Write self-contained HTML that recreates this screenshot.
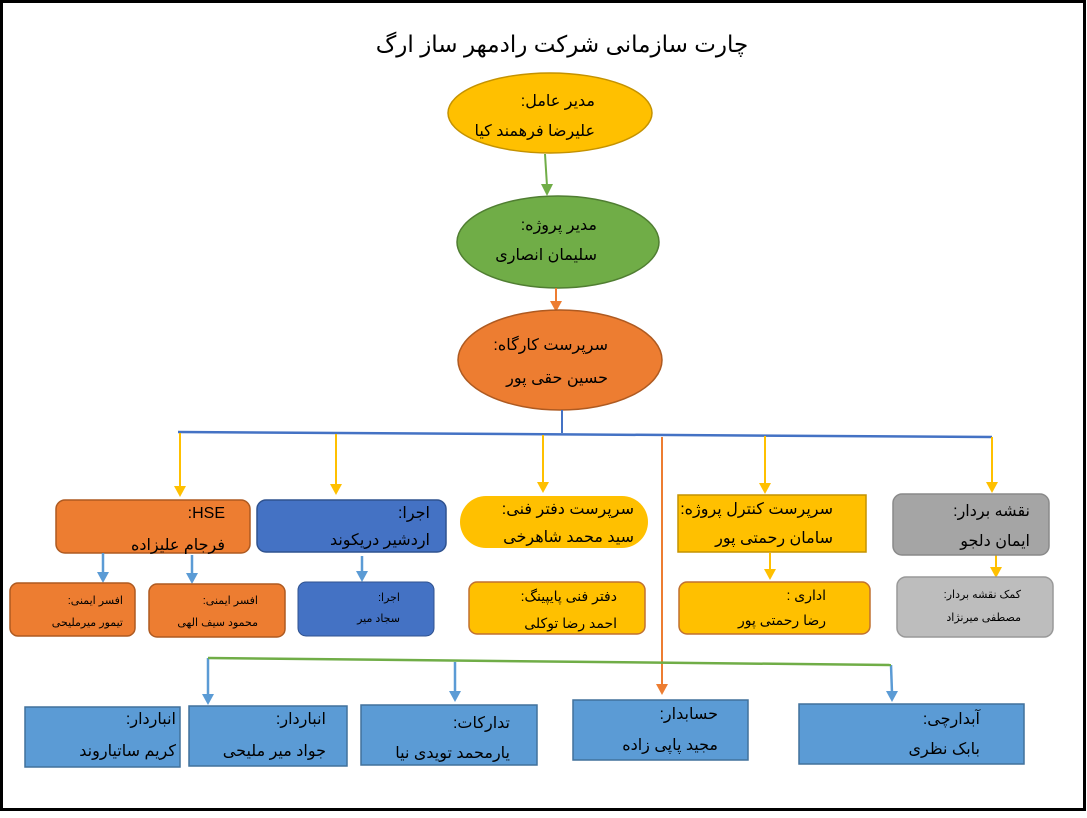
<!DOCTYPE html>
<html><head><meta charset="utf-8"><style>
body{margin:0;background:#fff}
svg text{font-family:"Liberation Sans","DejaVu Sans",sans-serif;direction:rtl}
</style></head><body>
<svg width="1087" height="813" viewBox="0 0 1087 813" xmlns="http://www.w3.org/2000/svg">
<rect x="1.5" y="1.5" width="1083" height="808" fill="#fff" stroke="#000" stroke-width="3"/>
<text x="562" y="52" font-size="23" text-anchor="middle">چارت سازمانی شرکت رادمهر ساز ارگ</text>

<ellipse cx="550" cy="113" rx="102" ry="40" fill="#FFC000" stroke="#c49200" stroke-width="1.5"/>
<text x="595" y="106" font-size="16" text-anchor="start">مدیر عامل:</text>
<text x="595" y="136" font-size="16" text-anchor="start">علیرضا فرهمند کیا</text>
<line x1="545" y1="154" x2="547" y2="186" stroke="#70AD47" stroke-width="2"/>
<path d="M541,184 L553,184 L547,196z" fill="#70AD47"/>
<ellipse cx="558" cy="242" rx="101" ry="46" fill="#70AD47" stroke="#507e32" stroke-width="1.5"/>
<text x="597" y="230" font-size="16" text-anchor="start">مدیر پروژه:</text>
<text x="597" y="260" font-size="16" text-anchor="start">سلیمان انصاری</text>
<line x1="556" y1="288" x2="556" y2="303" stroke="#ED7D31" stroke-width="2"/>
<path d="M550,301 L562,301 L556,312z" fill="#ED7D31"/>
<ellipse cx="560" cy="360" rx="102" ry="50" fill="#ED7D31" stroke="#ae5a21" stroke-width="1.5"/>
<text x="608" y="350" font-size="16" text-anchor="start">سرپرست کارگاه:</text>
<text x="608" y="383" font-size="16" text-anchor="start">حسین حقی پور</text>

<line x1="562" y1="410" x2="562" y2="433" stroke="#4472C4" stroke-width="2"/>
<line x1="178" y1="432" x2="992" y2="437" stroke="#4472C4" stroke-width="2.5"/>
<g stroke="#FFC000" stroke-width="2">
<line x1="180" y1="433" x2="180" y2="488"/><line x1="336" y1="434" x2="336" y2="486"/>
<line x1="543" y1="435" x2="543" y2="484"/><line x1="765" y1="436" x2="765" y2="485"/>
<line x1="992" y1="437" x2="992" y2="484"/>
<line x1="770" y1="553" x2="770" y2="571"/><line x1="996" y1="555" x2="996" y2="569"/>
</g>
<g fill="#FFC000">
<path d="M174,486 L186,486 L180,497z"/><path d="M330,484 L342,484 L336,495z"/>
<path d="M537,482 L549,482 L543,493z"/><path d="M759,483 L771,483 L765,494z"/>
<path d="M986,482 L998,482 L992,493z"/>
<path d="M764,569 L776,569 L770,580z"/><path d="M990,567 L1002,567 L996,578z"/>
</g>
<line x1="662" y1="437" x2="662" y2="686" stroke="#ED7D31" stroke-width="2"/>
<path d="M656,684 L668,684 L662,695z" fill="#ED7D31"/>

<rect x="56" y="500" width="194" height="53" rx="9" fill="#ED7D31" stroke="#ae5a21" stroke-width="1.5"/>
<text x="225" y="518" font-size="16" text-anchor="start">HSE:</text>
<text x="225" y="550" font-size="16" text-anchor="start">فرجام علیزاده</text>
<rect x="257" y="500" width="189" height="52" rx="9" fill="#4472C4" stroke="#2f528f" stroke-width="1.5"/>
<text x="430" y="518" font-size="16" text-anchor="start">اجرا:</text>
<text x="430" y="545" font-size="16" text-anchor="start">اردشیر دریکوند</text>
<rect x="460" y="496" width="188" height="52" rx="26" fill="#FFC000"/>
<text x="634" y="514" font-size="16" text-anchor="start">سرپرست دفتر فنی:</text>
<text x="634" y="542" font-size="16" text-anchor="start">سید محمد شاهرخی</text>
<rect x="678" y="495" width="188" height="57" fill="#FFC000" stroke="#c49200" stroke-width="1.5"/>
<text x="833" y="514" font-size="16" text-anchor="start">سرپرست کنترل پروژه:</text>
<text x="833" y="543" font-size="16" text-anchor="start">سامان رحمتی پور</text>
<rect x="893" y="494" width="156" height="61" rx="9" fill="#A5A5A5" stroke="#8a8a8a" stroke-width="1.5"/>
<text x="1030" y="516" font-size="16" text-anchor="start">نقشه بردار:</text>
<text x="1030" y="546" font-size="16" text-anchor="start">ایمان دلجو</text>

<g stroke="#5B9BD5" stroke-width="2.5">
<line x1="103" y1="553" x2="103" y2="574"/><line x1="192" y1="555" x2="192" y2="575"/><line x1="362" y1="556" x2="362" y2="573"/>
<line x1="208" y1="658" x2="208" y2="696"/><line x1="455" y1="662" x2="455" y2="693"/><line x1="891" y1="665" x2="892" y2="693"/>
</g>
<g fill="#5B9BD5">
<path d="M97,572 L109,572 L103,583z"/><path d="M186,573 L198,573 L192,584z"/><path d="M356,571 L368,571 L362,582z"/>
<path d="M202,694 L214,694 L208,705z"/><path d="M449,691 L461,691 L455,702z"/><path d="M886,691 L898,691 L892,702z"/>
</g>
<line x1="208" y1="658" x2="891" y2="665" stroke="#70AD47" stroke-width="2.5"/>

<rect x="10" y="583" width="125" height="53" rx="8" fill="#ED7D31" stroke="#ae5a21" stroke-width="1.5"/>
<text x="123" y="604" font-size="11" text-anchor="start">افسر ایمنی:</text>
<text x="123" y="626" font-size="11" text-anchor="start">تیمور میرملیحی</text>
<rect x="149" y="584" width="136" height="53" rx="8" fill="#ED7D31" stroke="#ae5a21" stroke-width="1.5"/>
<text x="258" y="604" font-size="11" text-anchor="start">افسر ایمنی:</text>
<text x="258" y="626" font-size="11" text-anchor="start">محمود سیف الهی</text>
<rect x="298" y="582" width="136" height="54" rx="8" fill="#4472C4" stroke="#2f528f" stroke-width="1"/>
<text x="400" y="601" font-size="11" text-anchor="start">اجرا:</text>
<text x="400" y="622" font-size="11" text-anchor="start">سجاد میر</text>
<rect x="469" y="582" width="176" height="52" rx="8" fill="#FFC000" stroke="#c07030" stroke-width="1.5"/>
<text x="617" y="601" font-size="14" text-anchor="start">دفتر فنی پایپینگ:</text>
<text x="617" y="628" font-size="14" text-anchor="start">احمد رضا توکلی</text>
<rect x="679" y="582" width="191" height="52" rx="8" fill="#FFC000" stroke="#c07030" stroke-width="1.5"/>
<text x="826" y="600" font-size="14" text-anchor="start">اداری :</text>
<text x="826" y="625" font-size="14" text-anchor="start">رضا رحمتی پور</text>
<rect x="897" y="577" width="156" height="60" rx="9" fill="#BDBDBD" stroke="#999" stroke-width="1.5"/>
<text x="1021" y="598" font-size="11" text-anchor="start">کمک نقشه بردار:</text>
<text x="1021" y="621" font-size="11" text-anchor="start">مصطفی میرنژاد</text>

<g fill="#5B9BD5" stroke="#41719c" stroke-width="1.5">
<rect x="25" y="707" width="155" height="60"/><rect x="189" y="706" width="158" height="60"/>
<rect x="361" y="705" width="176" height="60"/><rect x="573" y="700" width="175" height="60"/>
<rect x="799" y="704" width="225" height="60"/>
</g>
<g font-size="16" text-anchor="start">
<text x="176" y="724">انباردار:</text><text x="176" y="756">کریم ساتیاروند</text>
<text x="326" y="724">انباردار:</text><text x="326" y="756">جواد میر ملیحی</text>
<text x="510" y="728">تدارکات:</text><text x="510" y="758">یارمحمد تویدی نیا</text>
<text x="718" y="719">حسابدار:</text><text x="718" y="750">مجید پاپی زاده</text>
<text x="980" y="724">آبدارچی:</text><text x="980" y="754">بابک نظری</text>
</g>
</svg>
</body></html>
